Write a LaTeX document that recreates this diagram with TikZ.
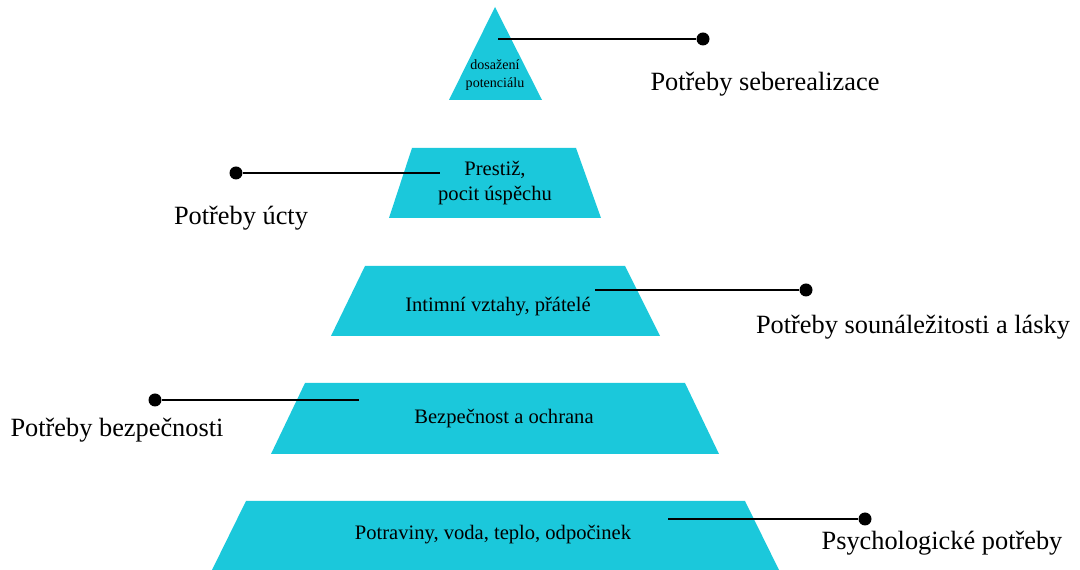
\documentclass[tikz,border=0pt]{standalone}
\usepackage{fontspec}
\setmainfont{Liberation Serif}
\definecolor{tyrkys}{HTML}{1BC8DB}
\begin{document}
\begin{tikzpicture}[x=0.02cm,y=-0.02cm,line join=round,
  vrstva/.style={fill=tyrkys},
  popis/.style={font=\fontsize{11.7}{14}\selectfont,align=center},
  potreba/.style={font=\fontsize{15}{17}\selectfont},
  tecka/.style={circle,fill=black,inner sep=0pt,minimum size=0.26cm},
  vodic/.style={line width=0.6pt}]
  \useasboundingbox (0,0) rectangle (1080,570);
  % vrstvy pyramidy
  \fill[vrstva] (495,7) -- (542,100) -- (449,100) -- cycle;
  \fill[vrstva] (412,148) -- (576,148) -- (601,218) -- (389,218) -- cycle;
  \fill[vrstva] (365,266) -- (625,266) -- (660,336) -- (331,336) -- cycle;
  \fill[vrstva] (305,383) -- (685,383) -- (719,454) -- (271,454) -- cycle;
  \fill[vrstva] (246,501) -- (745,501) -- (779,570) -- (212,570) -- cycle;
  \node[popis,font=\fontsize{8}{10}\selectfont] (L1) at (495,75) {dosažení\\potenciálu};
  \node[popis] (L2) at (495,183) {Prestiž,\\pocit úspěchu};
  \node[popis] (L3) at (498,307) {Intimní vztahy, přátelé};
  \node[popis] (L4) at (504,419) {Bezpečnost a ochrana};
  \node[popis] (L5) at (493,535) {Potraviny, voda, teplo, odpočinek};
  % vodice
  \coordinate (z1) at (498,39);
  \node[tecka] (t1) at (703,39) {};
  \draw[vodic] (z1) -- (t1);
  \coordinate (z2) at (440,173);
  \node[tecka] (t2) at (236,173) {};
  \draw[vodic] (t2) -- (z2);
  \coordinate (z3) at (595,290);
  \node[tecka] (t3) at (806,290) {};
  \draw[vodic] (z3) -- (t3);
  \coordinate (z4) at (359,400);
  \node[tecka] (t4) at (155,400) {};
  \draw[vodic] (t4) -- (z4);
  \coordinate (z5) at (668,519);
  \node[tecka] (t5) at (865,519) {};
  \draw[vodic] (z5) -- (t5);
  \node[potreba] (P1) at (765,84) {Potřeby seberealizace};
  \node[potreba] (P2) at (241,218) {Potřeby úcty};
  \node[potreba] (P3) at (913,327) {Potřeby sounáležitosti a lásky};
  \node[potreba] (P4) at (117,430) {Potřeby bezpečnosti};
  \node[potreba] (P5) at (942,543) {Psychologické potřeby};
\end{tikzpicture}
\end{document}
